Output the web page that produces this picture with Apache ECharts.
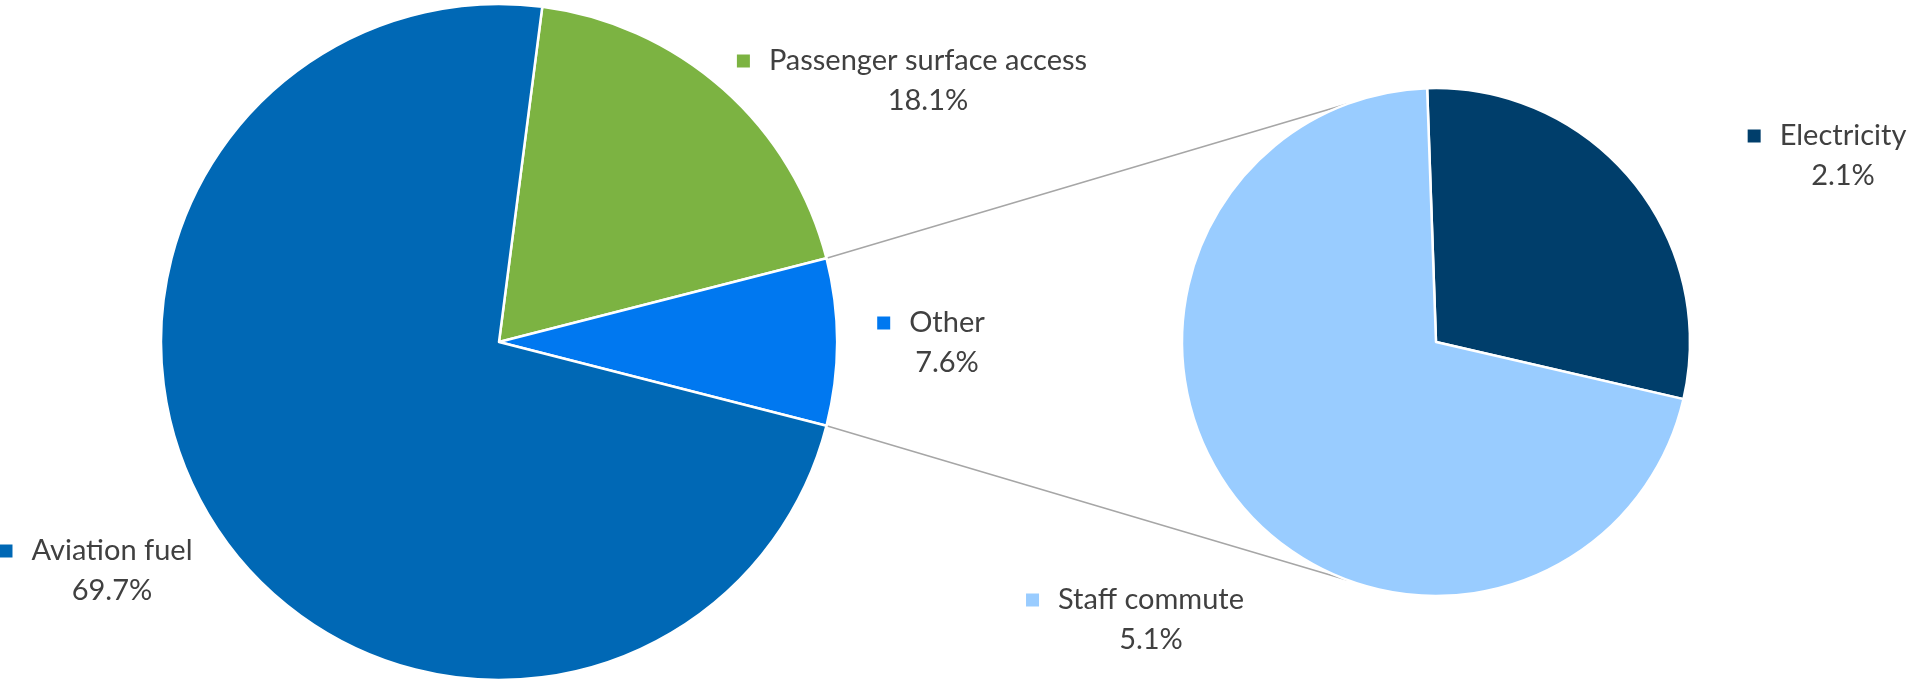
<!DOCTYPE html>
<html>
<head>
<meta charset="utf-8">
<script src="https://cdn.jsdelivr.net/npm/echarts@6/dist/echarts.min.js"></script>
<style>
  html, body { margin: 0; padding: 0; background: #fff; }
  #chart { width: 1908px; height: 681px; }
</style>
</head>
<body>
<div id="chart"></div>
<script>
// Emission sources, share of total (%)
const mainNames = ['Passenger surface access', 'Other', 'Aviation fuel'];
const mainValues = [18.1, 7.6, 69.7];
const mainColors = ['#7CB342', '#0078F0', '#0068B5'];

// Breakdown of "Other"
const subNames = ['Electricity', 'Staff commute'];
const subValues = [2.1, 5.1];
const subColors = ['#003E6B', '#99CCFF'];

// Label anchor points (block centres)
const mainLabelPos = [[928, 81], [947, 343], [112, 571]];
const subLabelPos = [[1843, 156], [1151, 620]];

const FONT = 'Lato, "Open Sans", sans-serif';
const TEXT = '#404040';

const mainCenter = [499, 342], mainR = 338;
const subCenter = [1436, 342], subR = 254;

const total = mainValues.reduce((a, b) => a + b, 0);
const otherIdx = mainNames.indexOf('Other');
const otherAngle = mainValues[otherIdx] / total * 360;
// Put the "Other" slice centred on the right-hand side of the main pie
const mainStart = otherAngle / 2 + mainValues[0] / total * 360;
const subStart = 92;

function makeRich(colors) {
  const rich = {
    name: { fontSize: 29, color: TEXT, fontFamily: FONT, lineHeight: 40 },
    pct: { fontSize: 29, color: TEXT, fontFamily: FONT, lineHeight: 40 },
    gap: { width: 19 },
    pad: { width: 32 }
  };
  colors.forEach((c, i) => {
    rich['k' + i] = { width: 13, height: 13, backgroundColor: c };
  });
  return rich;
}

function labelFormatter(p) {
  return '{k' + p.dataIndex + '|}{gap|}{name|' + p.name + '}{pad|}\n{pct|' + p.value.toFixed(1) + '%}';
}

function pieSeries(names, values, colors, center, r, start, positions) {
  return {
    type: 'pie',
    center: center,
    radius: r,
    startAngle: start,
    clockwise: true,
    animation: false,
    silent: true,
    avoidLabelOverlap: false,
    itemStyle: { borderColor: '#ffffff', borderWidth: 2.5 },
    label: {
      show: true,
      position: 'outside',
      formatter: labelFormatter,
      rich: makeRich(colors),
      align: 'center',
      overflow: 'none',
      width: null,
      fontFamily: FONT,
      color: TEXT
    },
    labelLine: { show: false },
    labelLayout: function (p) {
      const pos = positions[p.dataIndex];
      return { x: pos[0], y: pos[1], align: 'center', verticalAlign: 'middle', hideOverlap: false };
    },
    data: names.map((n, i) => ({ name: n, value: values[i], itemStyle: { color: colors[i] } }))
  };
}

// Connector lines from the edges of "Other" to the breakdown pie
function pt(c, r, degCCW) {
  const a = degCCW * Math.PI / 180;
  return [c[0] + r * Math.cos(a), c[1] - r * Math.sin(a)];
}
const joinAngle = 110.5;
const a1 = pt(mainCenter, mainR, otherAngle / 2);
const a2 = pt(mainCenter, mainR, -otherAngle / 2);
const b1 = pt(subCenter, subR, joinAngle);
const b2 = pt(subCenter, subR, -joinAngle);

const chart = echarts.init(document.getElementById('chart'), null, { renderer: 'canvas' });
chart.setOption({
  backgroundColor: '#ffffff',
  animation: false,
  graphic: [
    { type: 'line', z: -1, shape: { x1: a1[0], y1: a1[1], x2: b1[0], y2: b1[1] }, style: { stroke: '#A6A6A6', lineWidth: 1.5 } },
    { type: 'line', z: -1, shape: { x1: a2[0], y1: a2[1], x2: b2[0], y2: b2[1] }, style: { stroke: '#A6A6A6', lineWidth: 1.5 } }
  ],
  series: [
    pieSeries(mainNames, mainValues, mainColors, mainCenter, mainR, mainStart, mainLabelPos),
    pieSeries(subNames, subValues, subColors, subCenter, subR, subStart, subLabelPos)
  ]
});
</script>
</body>
</html>
